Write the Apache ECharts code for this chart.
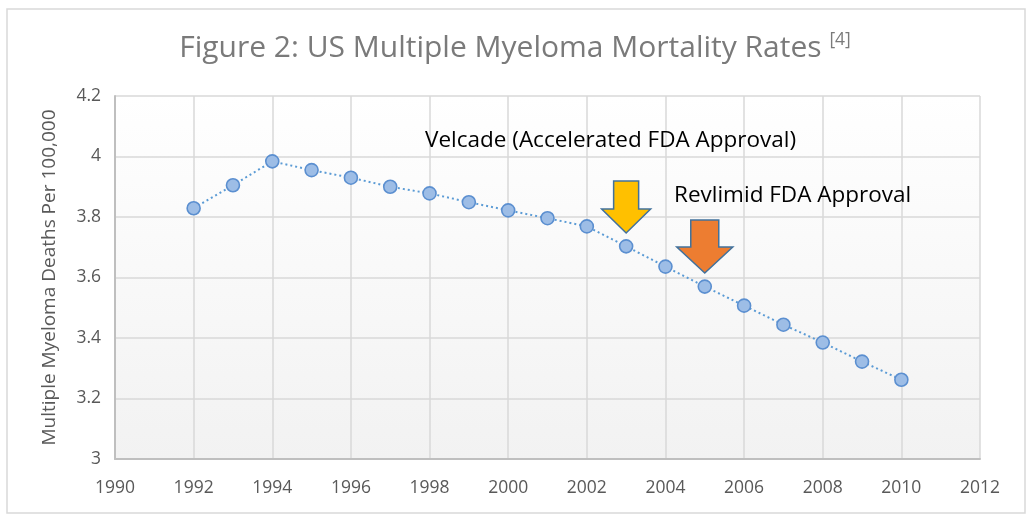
<!DOCTYPE html>
<html>
<head>
<meta charset="utf-8">
<script src="https://cdn.jsdelivr.net/npm/echarts@6/dist/echarts.min.js"></script>
<style>html,body{margin:0;padding:0;background:#fff}#c{width:1027px;height:516px}</style>
</head>
<body>
<div id="c"></div>
<script>
const years = [1992,1993,1994,1995,1996,1997,1998,1999,2000,2001,2002,2003,2004,2005,2006,2007,2008,2009,2010];
const rates = [3.829,3.905,3.984,3.955,3.930,3.900,3.878,3.849,3.822,3.796,3.769,3.703,3.636,3.570,3.507,3.444,3.385,3.322,3.262];
const xTicks = {min:1990, max:2012, interval:2};
const yTicks = {min:3, max:4.2, interval:0.2};
const annotations = [
  {text:'Velcade (Accelerated FDA Approval)', year:2003, tip:3.747, color:'#FFC000'},
  {text:'Revlimid FDA Approval', year:2005, tip:3.615, color:'#ED7D31'}
];
const FONT = '"Open Sans", "Noto Sans", sans-serif';

const chart = echarts.init(document.getElementById('c'));
chart.setOption({
  animation:false,
  backgroundColor:'#fff',
  grid:{left:115,right:47,top:96,bottom:57,show:true,borderWidth:0,
    backgroundColor:{type:'linear',x:0,y:0,x2:0,y2:1,colorStops:[{offset:0,color:'#ffffff'},{offset:1,color:'#f2f2f2'}]}},
  xAxis:{type:'value',min:xTicks.min,max:xTicks.max,interval:xTicks.interval,
    axisLine:{show:true,lineStyle:{color:'#bfbfbf',width:2}},axisTick:{show:false},
    axisLabel:{color:'#595959',fontSize:17.5,fontFamily:FONT,margin:20,formatter:v=>String(v)},
    splitLine:{show:true,lineStyle:{color:'#d9d9d9',width:1.5}}},
  yAxis:{type:'value',min:yTicks.min,max:yTicks.max,interval:yTicks.interval,
    name:'Multiple Myeloma Deaths Per 100,000',nameLocation:'middle',nameGap:56,
    nameTextStyle:{color:'#595959',fontSize:19,fontFamily:FONT},
    axisLine:{show:true,lineStyle:{color:'#bfbfbf',width:2}},axisTick:{show:false},
    axisLabel:{color:'#595959',fontSize:17.5,fontFamily:FONT,margin:14,formatter:v=>String(+v.toFixed(1))},
    splitLine:{show:true,lineStyle:{color:'#d9d9d9',width:1.5}}},
  series:[{type:'line',data:years.map((y,i)=>[y,rates[i]]),
    lineStyle:{color:'#5B9BD5',width:2,type:[2,3]},
    symbol:'circle',symbolSize:13,
    itemStyle:{color:'#9dbde6',borderColor:'#5b8fd0',borderWidth:1.6}}]
});

const graphics = [
  {type:'rect',shape:{x:7,y:9,width:1018,height:504},style:{fill:'none',stroke:'#d9d9d9',lineWidth:1.5},z:0},
  {type:'text',x:515,y:48,style:{
    text:'{a|Figure 2: US Multiple Myeloma Mortality Rates }{b|[4]}',
    align:'center',verticalAlign:'middle',
    rich:{a:{fontSize:30,fontFamily:FONT,fill:'#7a7a7a',lineHeight:34},
          b:{fontSize:17.5,fontFamily:FONT,fill:'#7a7a7a',verticalAlign:'top',lineHeight:34,padding:[0,0,14,0]}}},z:10}
];
const textPos = [[425,141],[674,196]];
annotations.forEach((a,i)=>{
  const tip = chart.convertToPixel({gridIndex:0},[a.year,a.tip]);
  const sw = i===0?12.5:14, hw = i===0?24.5:28, hh = i===0?24:26, sh = i===0?28:27;
  const tx = tip[0], ty = tip[1];
  graphics.push({type:'polygon',shape:{points:[
    [tx-sw,ty-hh-sh],[tx+sw,ty-hh-sh],[tx+sw,ty-hh],[tx+hw,ty-hh],[tx,ty],[tx-hw,ty-hh],[tx-sw,ty-hh]]},
    style:{fill:a.color,stroke:'#41719c',lineWidth:1.5},z:10});
  graphics.push({type:'text',x:textPos[i][0],y:textPos[i][1],style:{text:a.text,fontSize:22.5,fontFamily:FONT,fill:'#000',verticalAlign:'middle'},z:10});
});
chart.setOption({graphic:graphics});
</script>
</body>
</html>
